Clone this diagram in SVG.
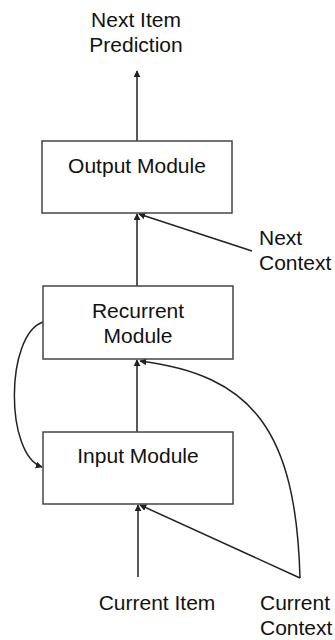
<svg xmlns="http://www.w3.org/2000/svg" width="335" height="640" viewBox="0 0 335 640">
<style>
.box{fill:#fff;stroke:#444;stroke-width:1.5}
.t{font-family:"Liberation Sans",Arial,sans-serif;font-size:21px;fill:#111}
.c{fill:none;stroke:#222;stroke-width:1.5}
</style>
<defs>
<marker id="ah" viewBox="0 0 10 10" refX="9" refY="5" markerWidth="7" markerHeight="7" markerUnits="userSpaceOnUse" orient="auto">
<path d="M0,0 L10,5 L0,10 z" fill="#222"/>
</marker>
</defs>
<rect width="335" height="640" fill="#fff"/>
<g id="connectors">
<line class="c" x1="137" y1="141" x2="137" y2="71" marker-end="url(#ah)"/>
<line class="c" x1="137" y1="286" x2="137" y2="214" marker-end="url(#ah)"/>
<line class="c" x1="252" y1="251" x2="139" y2="214" marker-end="url(#ah)"/>
<line class="c" x1="137" y1="432" x2="137" y2="360" marker-end="url(#ah)"/>
<path class="c" d="M300,578 C296,430 252,375 140,361" marker-end="url(#ah)"/>
<path class="c" d="M43,322 C5,335 5,455 42,467" marker-end="url(#ah)"/>
<line class="c" x1="138" y1="577" x2="138" y2="505" marker-end="url(#ah)"/>
<line class="c" x1="300" y1="578" x2="140" y2="505" marker-end="url(#ah)"/>
</g>
<g id="next-item-prediction">
<text class="t" x="136" y="27" text-anchor="middle">Next Item</text>
<text class="t" x="136" y="52" text-anchor="middle">Prediction</text>
</g>
<g id="output-module">
<rect class="box" x="42" y="141" width="190" height="72"/>
<text class="t" x="137" y="173" text-anchor="middle">Output Module</text>
</g>
<g id="next-context">
<text class="t" x="259" y="245">Next</text>
<text class="t" x="259" y="270">Context</text>
</g>
<g id="recurrent-module">
<rect class="box" x="43" y="286" width="190" height="73"/>
<text class="t" x="138" y="318" text-anchor="middle">Recurrent</text>
<text class="t" x="138" y="343" text-anchor="middle">Module</text>
</g>
<g id="input-module">
<rect class="box" x="43" y="432" width="190" height="72"/>
<text class="t" x="138" y="463" text-anchor="middle">Input Module</text>
</g>
<g id="current-item">
<text class="t" x="157" y="610" text-anchor="middle">Current Item</text>
</g>
<g id="current-context">
<text class="t" x="260" y="610">Current</text>
<text class="t" x="260" y="635">Context</text>
</g>
</svg>
